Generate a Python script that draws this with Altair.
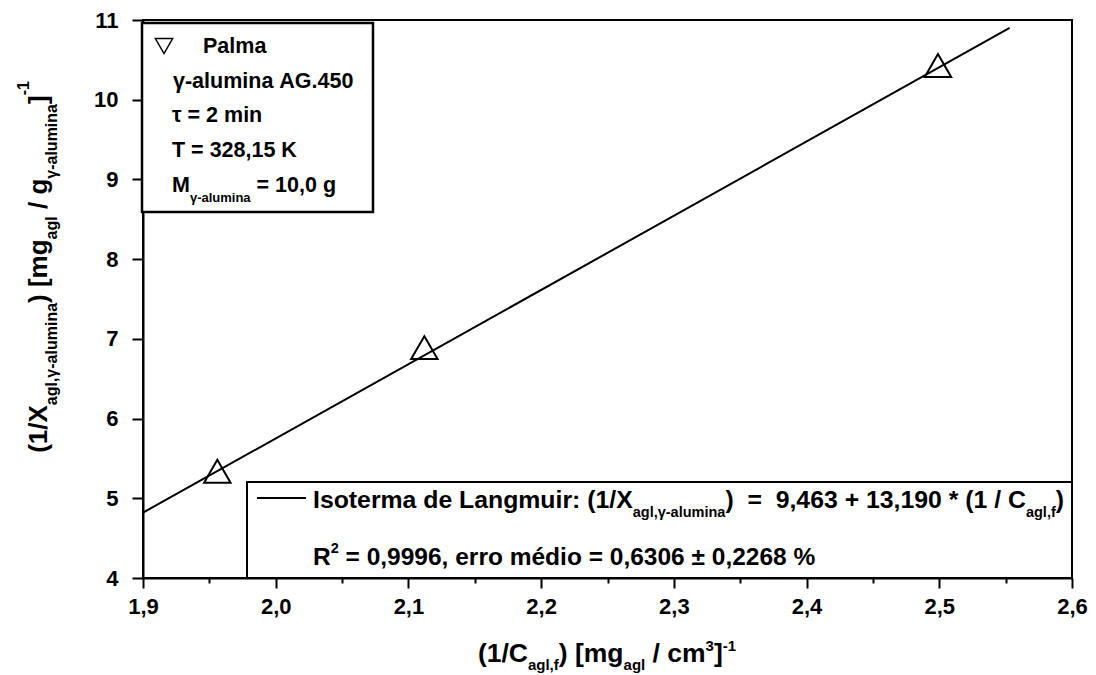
import altair as alt
import pandas as pd

# ---------------- data ----------------
x_vals = [1.956, 2.112, 2.499]          # 1/C_agl,f
y_vals = [5.34, 6.89, 10.43]            # 1/X_agl,γ-alumina
fit_x = [1.9, 2.553]                    # fitted Langmuir line (ends)
fit_y = [4.82, 10.90]
x_ticks = [1.9, 1.95, 2.0, 2.05, 2.1, 2.15, 2.2, 2.25, 2.3, 2.35, 2.4, 2.45, 2.5, 2.55, 2.6]
y_ticks = [4, 4.5, 5, 5.5, 6, 6.5, 7, 7.5, 8, 8.5, 9, 9.5, 10, 10.5, 11]

# ---------------- layout constants (page pixels) ----------------
LEFT, TOP = 143, 20
PW, PH = 929, 558
FONT = "Liberation Sans"

# Arial/Liberation Sans Bold advance widths (per 1000 em)
WID = {' ': 278, '\u00a0': 278, '(': 333, ')': 333, '/': 278, ',': 278, '.': 278, '=': 584,
       '+': 584, '*': 389, '%': 889, '±': 584, '[': 333, ']': 333, '-': 333, ':': 333,
       'A': 722, 'C': 722, 'G': 778, 'I': 278, 'K': 722, 'L': 611, 'M': 833, 'R': 722,
       'T': 611, 'X': 667, 'P': 667, 'a': 556, 'c': 556, 'd': 611, 'e': 556, 'f': 333,
       'g': 611, 'i': 278, 'l': 278, 'm': 889, 'n': 611, 'o': 611, 'r': 389, 's': 556,
       't': 333, 'u': 611, 'é': 556, 'γ': 556, 'τ': 500}


def tw(s, fs):
    return sum(WID.get(c, 556) for c in s) / 1000.0 * fs


def run(pieces, size, small, dsub, dsup):
    """relative pieces (text, along, across, fontsize) and total length"""
    out, pos = [], 0.0
    for text, role in pieces:
        fs = size if role == 'm' else small
        off = 0 if role == 'm' else (dsub if role == 'b' else -dsup)
        lead = len(text) - len(text.lstrip(' '))
        trail = len(text) - len(text.rstrip(' '))
        body = text.strip(' ')
        pos += tw(' ' * lead, fs)
        out.append((body.replace(' ', '\u00a0'), pos, off, fs))
        pos += tw(body, fs) + tw(' ' * trail, fs)
    return out, pos


one = alt.Data(values=[{"k": 0}])
layers = []


def put_text(text, px, py, fs, angle=0):
    kw = dict(text=text, font=FONT, fontSize=fs, fontWeight='bold', align='left',
              baseline='alphabetic', color='black')
    if angle:
        kw['angle'] = angle
    layers.append(alt.Chart(one).mark_text(**kw).encode(
        x=alt.value(px - LEFT), y=alt.value(py - TOP)))


def horiz(pieces, x0, y0, size, small, dsub, dsup, center=None):
    segs, total = run(pieces, size, small, dsub, dsup)
    if center is not None:
        x0 = center - total / 2
    for text, pos, off, fs in segs:
        put_text(text, x0 + pos, y0 + off, fs)


def vert(pieces, x0, ycenter, size, small, dsub, dsup):
    segs, total = run(pieces, size, small, dsub, dsup)
    y0 = ycenter + total / 2
    for text, pos, off, fs in segs:
        put_text(text, x0 + off, y0 - pos, fs, 270)


# ---------------- scales / axes ----------------
maj_x = "abs(datum.value*10 - round(datum.value*10)) < 0.001"
maj_y = "abs(datum.value - round(datum.value)) < 0.001"

axis_common = dict(domainColor='black', domainWidth=2, tickColor='black', tickWidth=2,
                   labelFont=FONT, labelFontWeight='bold', labelFontSize=22,
                   labelColor='black', grid=False, title=None, labelOverlap=False,
                   labelFlush=False, labelBound=False)

xs = alt.Scale(domain=[1.9, 2.6], nice=False, zero=False)
ys = alt.Scale(domain=[4, 11], nice=False, zero=False)

x_axis = alt.Axis(values=x_ticks,
                  labelExpr=f"{maj_x} ? replace(format(datum.value, '.1f'), '.', ',') : ''",
                  tickSize={"condition": {"test": maj_x, "value": 10}, "value": 5},
                  labelPadding=8, **axis_common)
y_axis = alt.Axis(values=y_ticks,
                  labelExpr=f"{maj_y} ? format(datum.value, 'd') : ''",
                  tickSize={"condition": {"test": maj_y, "value": 11}, "value": 6},
                  labelPadding=14, **axis_common)

pts = pd.DataFrame({"x": x_vals, "y": y_vals})
fit = pd.DataFrame({"x": fit_x, "y": fit_y})

line = alt.Chart(fit).mark_line(color='black', strokeWidth=2).encode(
    x=alt.X('x:Q', scale=xs, axis=x_axis), y=alt.Y('y:Q', scale=ys, axis=y_axis))
points = alt.Chart(pts).mark_point(shape='triangle-up', filled=False, size=700,
                                   color='black', strokeWidth=2, opacity=1).encode(
    x=alt.X('x:Q', scale=xs), y=alt.Y('y:Q', scale=ys))

# legend boxes
box1 = alt.Chart(one).mark_rect(fill='white', stroke='black', strokeWidth=2.5).encode(
    x=alt.value(142 - LEFT), x2=alt.value(373 - LEFT), y=alt.value(23 - TOP), y2=alt.value(212 - TOP))
box2 = alt.Chart(one).mark_rect(fill='white', stroke='black', strokeWidth=2).encode(
    x=alt.value(247 - LEFT), x2=alt.value(1072 - LEFT), y=alt.value(482 - TOP), y2=alt.value(578 - TOP))

leg_sym = alt.Chart(one).mark_point(shape='triangle-down', filled=False, size=300,
                                    color='black', strokeWidth=1.5, opacity=1).encode(
    x=alt.value(164 - LEFT), y=alt.value(46 - TOP))
leg_line = alt.Chart(one).mark_rule(color='black', strokeWidth=2).encode(
    x=alt.value(257 - LEFT), x2=alt.value(306 - LEFT), y=alt.value(498 - TOP))

# ---------------- texts ----------------
# box 1
put_text("Palma", 203, 53, 21.5)
horiz([("γ-alumina AG.450", 'm')], 173, 88, 21.5, 13, 0, 0)
horiz([("τ = 2 min", 'm')], 172, 122, 21.5, 13, 0, 0)
horiz([("T = 328,15 K", 'm')], 172, 157, 21.5, 13, 0, 0)
horiz([("M", 'm'), ("γ-alumina", 'b'), (" = 10,0 g", 'm')], 172, 192, 21.5, 13, 10, 10)

# box 2
horiz([("Isoterma de Langmuir: (1/X", 'm'), ("agl,γ-alumina", 'b'),
       (")  =  9,463 + 13,190 * (1 / C", 'm'), ("agl,f", 'b'), (")", 'm')],
      313, 508, 24.8, 14.5, 9, 12)
horiz([("R", 'm'), ("2", 'p'), (" = 0,9996, erro médio = 0,6306 ± 0,2268 %", 'm')],
      313, 565, 24.5, 14.5, 9, 12)

# axis titles
horiz([("(1/C", 'm'), ("agl,f", 'b'), (") [mg", 'm'), ("agl", 'b'), (" / cm", 'm'),
       ("3", 'p'), ("]", 'm'), ("-1", 'p')], 0, 662, 26.5, 15, 8, 11, center=607)
vert([("(1/X", 'm'), ("agl,γ-alumina", 'b'), (") [mg", 'm'), ("agl", 'b'), (" / g", 'm'),
      ("γ-alumina", 'b'), ("]", 'm'), ("-1", 'p')], 47, 267, 26, 16, 10, 18)

chart = alt.layer(line, points, box1, box2, leg_sym, leg_line, *layers).properties(
    width=PW, height=PH,
    autosize=alt.AutoSizeParams(type="none"),
    padding={"left": LEFT - 8, "top": TOP - 8, "right": 16, "bottom": 97},
    background='white',
).configure_view(stroke='black', strokeWidth=2)

chart.save("out.html", embed_options={"renderer": "svg", "actions": False})
